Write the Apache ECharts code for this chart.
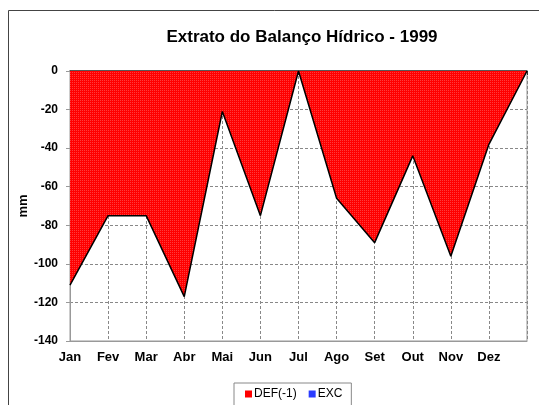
<!DOCTYPE html>
<html>
<head>
<meta charset="utf-8">
<script src="https://cdn.jsdelivr.net/npm/echarts@6/dist/echarts.min.js"></script>
<style>
html,body{margin:0;padding:0;background:#fff;}
#chart{width:539px;height:405px;}
</style>
</head>
<body>
<div id="chart"></div>
<script>
var meses = ['Jan','Fev','Mar','Abr','Mai','Jun','Jul','Ago','Set','Out','Nov','Dez',''];
var def = [-111, -75, -75, -117, -21, -75, 0, -66, -89, -44, -96, -38, 0];
var exc = [0, 0, 0, 0, 0, 0, 0, 0, 0, 0, 0, 0, 0];

// red dotted fill like the original
var pat = document.createElement('canvas');
pat.width = 2; pat.height = 2;
var pc = pat.getContext('2d');
pc.fillStyle = '#ff0000'; pc.fillRect(0, 0, 2, 2);
pc.fillStyle = '#ff3a3a'; pc.fillRect(0, 0, 1, 1);

var chart = echarts.init(document.getElementById('chart'));
var font = 'Liberation Sans, Arial, sans-serif';
var option = {
    animation: false,
    title: {
        text: 'Extrato do Balanço Hídrico - 1999',
        left: 297, top: 24, textAlign: 'center',
        textStyle: {fontFamily: font, fontSize: 17, fontWeight: 'bold', color: '#000'}
    },
    graphic: [{
        type: 'rect', shape: {x: 8.5, y: 10.5, width: 540, height: 420},
        style: {fill: null, stroke: '#444', lineWidth: 1}, silent: true
    }],
    legend: {
        data: [{name: 'DEF(-1)', icon: 'rect'}, {name: 'EXC', icon: 'rect'}],
        left: 234, top: 383, itemWidth: 7, itemHeight: 7, itemGap: 12,
        padding: [5, 9, 8, 11],
        borderColor: '#888', borderWidth: 1,
        textStyle: {fontFamily: font, fontSize: 12, color: '#000', padding: [0, 0, 0, -3]}
    },
    grid: {left: 70, right: 12, top: 71, bottom: 64, show: true, borderColor: '#999', borderWidth: 1},
    xAxis: [{
        type: 'category', data: meses, boundaryGap: false, position: 'bottom',
        axisLine: {onZero: false, lineStyle: {color: '#999'}},
        axisTick: {show: false},
        axisLabel: {interval: 0, margin: 10, fontFamily: font, fontSize: 13, fontWeight: 'bold', color: '#000'},
        splitLine: {show: true, interval: 0, lineStyle: {color: '#888', type: [3, 2]}}
    }, {
        type: 'category', data: meses, boundaryGap: false, position: 'top',
        axisLine: {onZero: false, lineStyle: {color: '#333', width: 1.5}},
        axisTick: {show: true, inside: true, length: 4, interval: 0, lineStyle: {color: '#333'}},
        axisLabel: {show: false},
        splitLine: {show: false}
    }],
    yAxis: {
        type: 'value', min: -140, max: 0, interval: 20,
        name: 'mm', nameLocation: 'middle', nameGap: 40, nameRotate: 90,
        nameMoveOverlap: false,
        nameTextStyle: {fontFamily: font, fontSize: 13, fontWeight: 'bold', color: '#000'},
        axisLine: {show: true, lineStyle: {color: '#999'}},
        axisTick: {show: true, length: 4, lineStyle: {color: '#999'}},
        axisLabel: {margin: 12, fontFamily: font, fontSize: 12, fontWeight: 'bold', color: '#000'},
        splitLine: {show: true, lineStyle: {color: '#888', type: [3, 2]}}
    },
    series: [{
        name: 'DEF(-1)', type: 'line', data: def,
        symbol: 'none', z: 3,
        itemStyle: {color: '#ff0000'},
        lineStyle: {color: '#000', width: 1.5},
        areaStyle: {color: {image: pat, repeat: 'repeat'}, opacity: 1}
    }, {
        name: 'EXC', type: 'line', data: exc,
        symbol: 'none', z: 2,
        itemStyle: {color: '#2a3cff'},
        lineStyle: {width: 0},
        areaStyle: {color: '#2a3cff', opacity: 1}
    }]
};
chart.setOption(option);
window.addEventListener('resize', function () { chart.resize(); });
</script>
</body>
</html>
